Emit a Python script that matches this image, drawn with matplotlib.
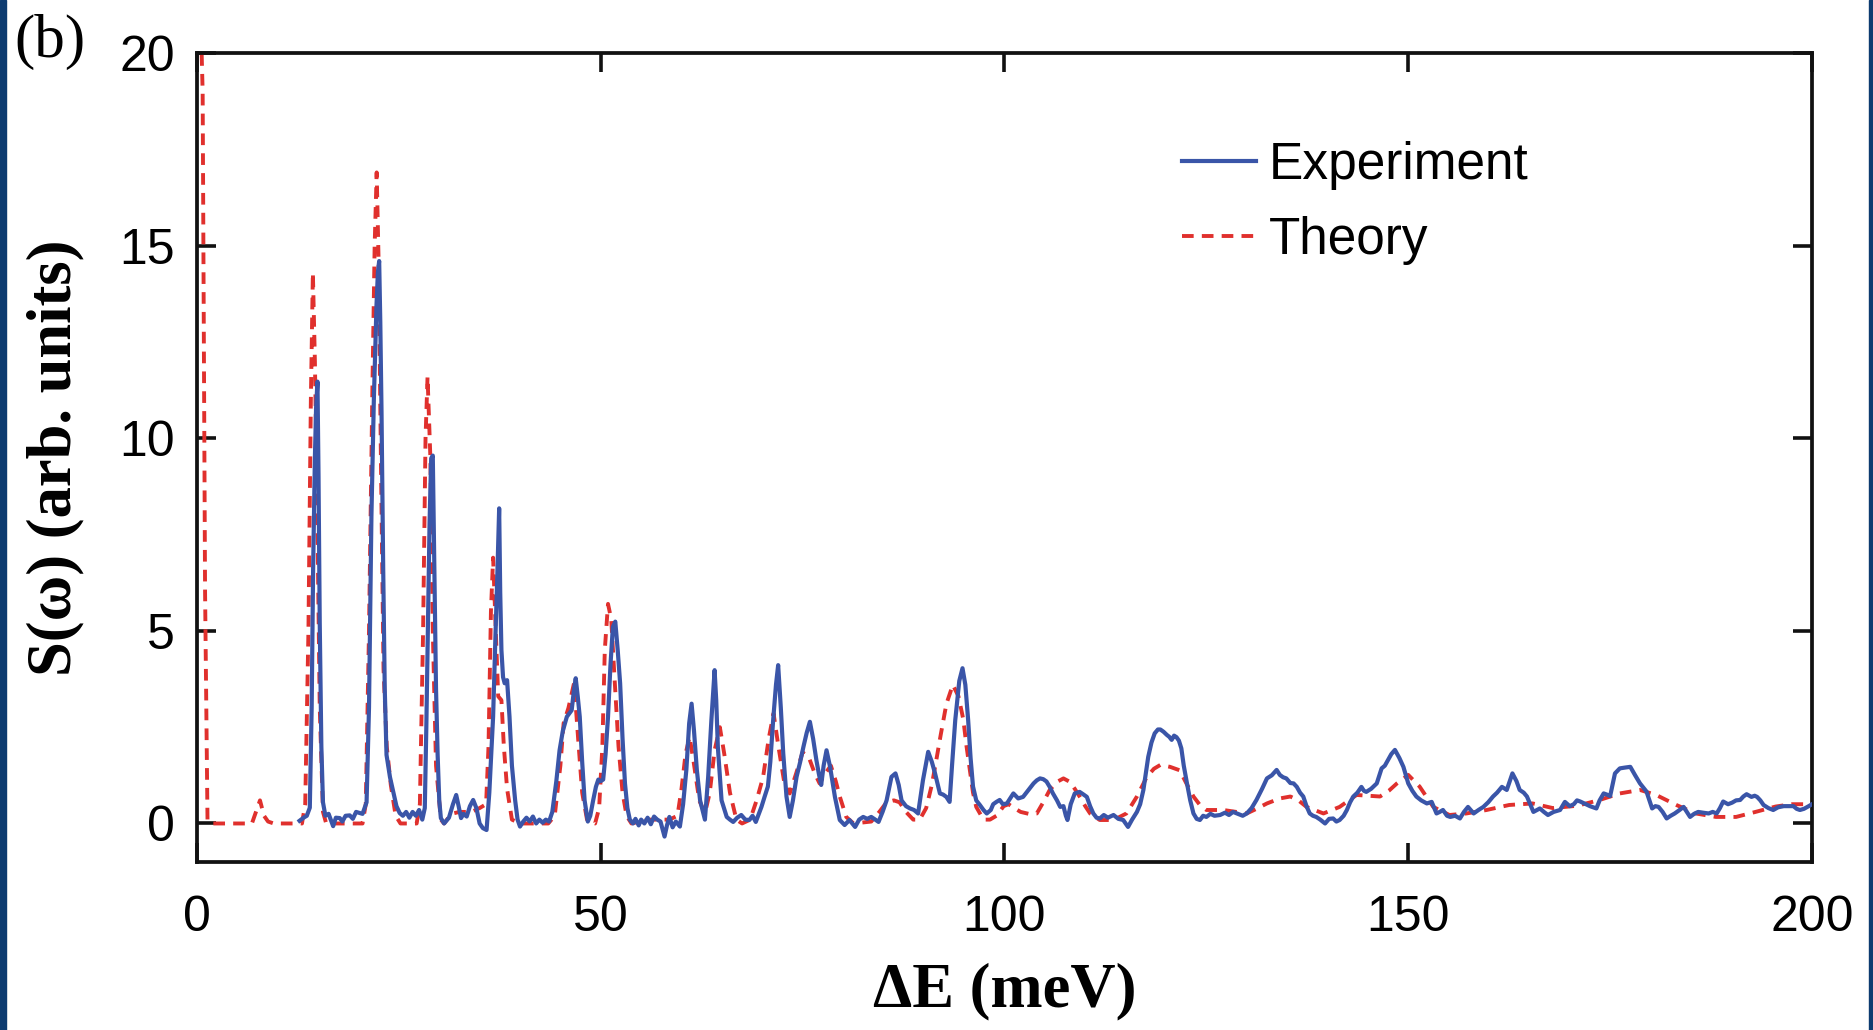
import numpy as np
import matplotlib.pyplot as plt
from matplotlib.patches import Rectangle

# S(w) spectra: (energy transfer in meV, intensity)
experiment = [
    (12.7, 0.07), (13.2, 0.15), (13.6, 0.2), (13.97, 0.41), (14.2, 3.0), (14.38, 6.6),
    (14.6, 9.5), (14.75, 10.8), (14.92, 11.47), (15.05, 9.0), (15.2, 5.2), (15.4, 2.0),
    (15.6, 0.55), (15.9, 0.2), (16.3, 0.25), (16.86, -0.07), (17.2, 0.15), (17.68, 0.14),
    (18.0, 0.05), (18.4, 0.2), (18.92, 0.21), (19.3, 0.12), (19.7, 0.3), (20.16, 0.27),
    (20.5, 0.25), (21.0, 0.55), (21.3, 3.0), (21.6, 7.97), (21.9, 11.0), (22.23, 13.46),
    (22.4, 14.3), (22.56, 14.6), (22.7, 13.0), (22.85, 10.7), (23.06, 6.6), (23.25, 3.5),
    (23.47, 1.78), (23.9, 1.2), (24.3, 0.83), (24.7, 0.45), (25.1, 0.27), (25.5, 0.2),
    (25.9, 0.3), (26.3, 0.15), (26.7, 0.3), (27.1, 0.2), (27.5, 0.35), (27.9, 0.1),
    (28.21, 0.4), (28.4, 2.5), (28.6, 5.2), (28.8, 7.8), (29.0, 9.48), (29.2, 9.55),
    (29.4, 6.6), (29.6, 3.5), (29.8, 1.78), (30.0, 0.6), (30.2, 0.14), (30.6, 0.0),
    (31.2, 0.15), (31.7, 0.5), (32.1, 0.74), (32.4, 0.45), (32.7, 0.14), (33.0, 0.25),
    (33.4, 0.18), (33.8, 0.45), (34.2, 0.61), (34.6, 0.4), (35.0, 0.0), (35.4, -0.12),
    (35.86, -0.17), (36.2, 0.8), (36.67, 2.77), (36.95, 4.8), (37.2, 6.5), (37.42, 8.18),
    (37.55, 6.0), (37.7, 4.5), (37.9, 3.8), (38.1, 3.64), (38.4, 3.72), (38.7, 2.77),
    (39.0, 1.5), (39.4, 0.6), (39.7, 0.1), (40.0, -0.08), (40.4, 0.05), (40.8, 0.15),
    (41.2, 0.05), (41.6, 0.18), (42.0, 0.0), (42.4, 0.1), (42.8, 0.02), (43.2, 0.1),
    (43.6, 0.05), (44.0, 0.3), (44.5, 1.1), (44.9, 1.9), (45.3, 2.4), (45.8, 2.77),
    (46.4, 2.94), (46.7, 3.5), (46.9, 3.77), (47.15, 3.3), (47.4, 2.77), (47.7, 1.6),
    (48.0, 0.6), (48.4, 0.05), (48.7, 0.2), (49.06, 0.6), (49.4, 0.95), (49.7, 1.14),
    (50.0, 1.1), (50.3, 1.14), (50.6, 1.8), (50.9, 2.77), (51.2, 4.1), (51.5, 5.1),
    (51.8, 5.24), (52.1, 4.5), (52.4, 3.64), (52.7, 2.2), (53.0, 1.04), (53.3, 0.4),
    (53.6, 0.1), (54.0, 0.0), (54.3, 0.12), (54.7, -0.05), (55.0, 0.1), (55.4, 0.0),
    (55.8, 0.15), (56.2, -0.02), (56.6, 0.18), (57.0, 0.1), (57.4, 0.05), (57.9, -0.34),
    (58.2, -0.05), (58.5, 0.17), (58.9, -0.1), (59.3, 0.05), (59.8, -0.08), (60.2, 0.5),
    (60.6, 1.39), (60.95, 2.6), (61.25, 3.11), (61.55, 2.4), (61.9, 1.39), (62.3, 0.6),
    (62.7, 0.27), (62.9, 0.1), (63.3, 1.2), (63.7, 2.68), (64.1, 3.98), (64.3, 3.2),
    (64.5, 1.99), (64.96, 0.6), (65.6, 0.17), (66.0, 0.1), (66.4, 0.04), (66.9, 0.15),
    (67.4, 0.22), (67.9, 0.1), (68.4, 0.09), (68.8, 0.2), (69.2, 0.04), (69.9, 0.43),
    (70.3, 0.7), (70.7, 0.96), (71.0, 1.6), (71.35, 2.68), (71.7, 3.6), (71.97, 4.11),
    (72.3, 3.0), (72.6, 1.82), (73.0, 0.7), (73.4, 0.17), (73.8, 0.6), (74.25, 1.21),
    (74.7, 1.6), (75.1, 1.99), (75.5, 2.35), (75.9, 2.64), (76.3, 2.2), (76.7, 1.65),
    (77.0, 1.3), (77.3, 1.0), (77.6, 1.5), (77.96, 1.9), (78.4, 1.47), (79.0, 0.69),
    (79.6, 0.09), (80.2, -0.04), (80.8, 0.09), (81.5, -0.09), (82.0, 0.1), (82.5, 0.17),
    (83.0, 0.12), (83.5, 0.17), (84.0, 0.1), (84.4, 0.04), (84.9, 0.3), (85.4, 0.6),
    (86.0, 1.21), (86.5, 1.3), (86.9, 1.0), (87.25, 0.6), (87.8, 0.45), (88.3, 0.39),
    (88.8, 0.35), (89.3, 0.26), (89.9, 1.12), (90.55, 1.86), (91.0, 1.6), (91.4, 1.3),
    (92.0, 0.78), (92.4, 0.75), (92.8, 0.69), (93.2, 0.56), (93.5, 1.5), (93.9, 2.68),
    (94.4, 3.7), (94.8, 4.03), (95.15, 3.6), (95.5, 2.68), (95.8, 1.7), (96.1, 0.96),
    (96.5, 0.6), (96.95, 0.48), (97.4, 0.35), (97.8, 0.26), (98.3, 0.35), (98.6, 0.5),
    (99.0, 0.56), (99.4, 0.61), (99.8, 0.5), (100.3, 0.52), (100.7, 0.65), (101.1, 0.78),
    (101.7, 0.65), (102.3, 0.69), (102.9, 0.85), (103.6, 1.04), (104.0, 1.12), (104.4, 1.17),
    (104.8, 1.15), (105.2, 1.09), (105.6, 0.95), (106.0, 0.78), (106.5, 0.6), (106.9, 0.43),
    (107.3, 0.45), (107.6, 0.2), (107.8, 0.09), (108.2, 0.5), (108.7, 0.78), (109.3, 0.82),
    (109.8, 0.75), (110.2, 0.69), (110.6, 0.45), (111.0, 0.26), (111.4, 0.15), (111.8, 0.13),
    (112.3, 0.22), (112.8, 0.15), (113.5, 0.22), (114.1, 0.12), (114.7, 0.09), (115.0, 0.0),
    (115.3, -0.09), (115.8, 0.1), (116.4, 0.3), (116.8, 0.5), (117.2, 0.87), (117.8, 1.73),
    (118.2, 2.1), (118.6, 2.34), (119.0, 2.44), (119.3, 2.44), (119.7, 2.38), (120.1, 2.3),
    (120.4, 2.25), (120.7, 2.17), (121.0, 2.28), (121.3, 2.24), (121.6, 2.15), (121.9, 1.95),
    (122.2, 1.5), (122.6, 1.04), (123.0, 0.6), (123.4, 0.26), (123.8, 0.12), (124.2, 0.09),
    (124.6, 0.2), (125.0, 0.17), (125.5, 0.25), (126.0, 0.2), (126.7, 0.22), (127.3, 0.28),
    (127.8, 0.22), (128.3, 0.3), (128.9, 0.25), (129.5, 0.2), (130.0, 0.26), (130.6, 0.4),
    (131.2, 0.61), (131.9, 0.9), (132.5, 1.17), (133.1, 1.25), (133.7, 1.39), (134.1, 1.26),
    (134.5, 1.2), (134.9, 1.17), (135.4, 1.05), (135.8, 1.04), (136.2, 0.95), (136.6, 0.8),
    (137.0, 0.7), (137.4, 0.45), (137.8, 0.26), (138.2, 0.2), (138.6, 0.17), (139.1, 0.1),
    (139.7, 0.0), (140.2, 0.12), (140.7, 0.13), (141.1, 0.05), (141.5, 0.09), (142.0, 0.2),
    (142.4, 0.35), (142.8, 0.55), (143.2, 0.7), (143.7, 0.8), (144.2, 0.95), (144.5, 0.85),
    (144.8, 0.82), (145.4, 0.9), (146.1, 1.04), (146.7, 1.43), (147.1, 1.5), (147.5, 1.65),
    (147.9, 1.8), (148.35, 1.91), (148.9, 1.7), (149.4, 1.47), (150.0, 1.04), (150.5, 0.85),
    (151.0, 0.7), (151.6, 0.6), (152.3, 0.52), (152.9, 0.56), (153.5, 0.26), (153.9, 0.3),
    (154.3, 0.35), (154.8, 0.2), (155.2, 0.17), (155.8, 0.2), (156.4, 0.13), (156.9, 0.3),
    (157.4, 0.43), (158.1, 0.26), (158.7, 0.35), (159.3, 0.43), (159.9, 0.55), (160.5, 0.7),
    (161.0, 0.8), (161.6, 0.95), (162.2, 0.87), (162.9, 1.3), (163.4, 1.1), (163.8, 0.87),
    (164.3, 0.8), (164.7, 0.7), (165.1, 0.5), (165.5, 0.3), (166.3, 0.39), (166.8, 0.3),
    (167.3, 0.22), (168.0, 0.3), (168.8, 0.35), (169.4, 0.56), (170.0, 0.45), (170.5, 0.5),
    (170.9, 0.6), (171.3, 0.57), (172.0, 0.5), (172.5, 0.45), (173.3, 0.39), (173.7, 0.6),
    (174.2, 0.78), (174.6, 0.75), (175.0, 0.71), (175.6, 1.3), (176.2, 1.43), (176.8, 1.45),
    (177.5, 1.47), (178.1, 1.25), (178.7, 1.04), (179.5, 0.83), (180.2, 0.39), (180.6, 0.45),
    (181.0, 0.43), (181.5, 0.3), (182.0, 0.13), (182.5, 0.2), (183.0, 0.26), (183.6, 0.35),
    (184.1, 0.43), (184.5, 0.3), (184.9, 0.17), (185.4, 0.25), (185.9, 0.3), (186.5, 0.28),
    (187.2, 0.26), (187.7, 0.3), (188.2, 0.26), (188.6, 0.4), (189.0, 0.57), (189.6, 0.5),
    (190.1, 0.54), (190.6, 0.6), (191.1, 0.61), (191.5, 0.7), (191.9, 0.76), (192.5, 0.69),
    (192.9, 0.72), (193.2, 0.69), (193.6, 0.6), (194.0, 0.48), (194.6, 0.4), (195.2, 0.35),
    (195.8, 0.42), (196.5, 0.45), (197.1, 0.45), (197.7, 0.45), (198.1, 0.38), (198.5, 0.35),
    (199.0, 0.38), (199.6, 0.45), (200.0, 0.5),
]

theory = [
    (0.45, 21.0), (0.7, 19.0), (1.0, 6.0), (1.3, 0.1), (1.6, 0.0), (6.8, 0.0), (7.3, 0.3),
    (7.8, 0.6), (8.3, 0.2), (8.8, 0.05), (9.5, 0.0), (13.0, 0.0), (13.4, 0.5), (13.8, 5.0),
    (14.1, 11.0), (14.35, 14.3), (14.6, 12.0), (14.9, 8.0), (15.2, 3.0), (15.6, 0.3),
    (16.0, 0.0), (20.5, 0.0), (20.9, 0.5), (21.3, 5.0), (21.7, 11.0), (22.0, 15.0),
    (22.25, 16.9), (22.5, 14.5), (22.8, 9.0), (23.1, 4.0), (23.5, 2.0), (24.0, 1.0),
    (24.6, 0.2), (25.2, 0.0), (27.2, 0.0), (27.6, 0.5), (28.0, 5.0), (28.3, 10.0),
    (28.55, 11.6), (28.9, 9.5), (29.2, 5.0), (29.6, 1.5), (30.2, 0.1), (30.6, 0.0),
    (31.5, 0.25), (32.5, 0.3), (34.0, 0.3), (35.0, 0.4), (35.8, 0.5), (36.1, 2.0),
    (36.4, 5.5), (36.67, 6.9), (37.0, 5.0), (37.3, 3.3), (37.7, 3.2), (38.0, 2.0),
    (38.4, 0.9), (39.0, 0.1), (40.0, 0.0), (43.5, 0.0), (44.3, 0.2), (45.0, 1.5),
    (45.4, 2.6), (46.0, 3.0), (46.7, 3.65), (47.2, 2.2), (47.7, 0.8), (48.3, 0.1),
    (49.3, 0.0), (49.8, 0.4), (50.2, 2.0), (50.5, 4.5), (50.9, 5.7), (51.3, 5.3),
    (51.7, 3.8), (52.2, 2.0), (52.7, 0.8), (53.2, 0.2), (53.8, 0.0), (56.0, 0.1),
    (58.5, 0.1), (59.5, 0.2), (60.0, 0.9), (60.5, 1.8), (61.0, 2.25), (61.5, 1.6),
    (62.2, 0.6), (62.9, 0.26), (63.5, 0.8), (64.1, 1.9), (64.75, 2.5), (65.3, 1.8),
    (66.0, 0.8), (66.8, 0.1), (67.5, 0.0), (68.5, 0.1), (69.3, 0.6), (70.1, 1.2),
    (70.8, 2.2), (71.4, 2.86), (72.0, 2.0), (72.7, 1.1), (73.4, 0.78), (74.2, 1.3),
    (75.0, 1.85), (75.8, 1.7), (76.5, 1.3), (77.1, 1.04), (77.8, 1.3), (78.5, 1.5),
    (79.1, 1.1), (79.6, 0.7), (80.4, 0.17), (81.3, 0.0), (83.5, 0.05), (84.5, 0.3),
    (85.4, 0.55), (86.3, 0.6), (87.0, 0.55), (87.8, 0.3), (88.7, 0.1), (89.5, 0.1),
    (90.3, 0.4), (91.0, 1.0), (91.6, 1.7), (92.1, 2.3), (92.8, 3.1), (93.6, 3.6),
    (94.3, 3.3), (94.9, 2.7), (95.3, 2.0), (95.7, 1.4), (96.1, 0.8), (96.5, 0.43),
    (97.4, 0.1), (98.2, 0.1), (99.0, 0.2), (99.9, 0.45), (100.5, 0.5), (101.2, 0.4),
    (102.0, 0.3), (103.0, 0.25), (104.0, 0.26), (104.8, 0.55), (105.6, 0.87), (106.5, 1.08),
    (107.3, 1.17), (108.1, 1.08), (108.7, 0.9), (109.3, 0.7), (110.0, 0.45), (110.6, 0.26),
    (111.8, 0.09), (113.5, 0.09), (115.1, 0.26), (116.4, 0.7), (117.6, 1.2), (118.5, 1.42),
    (119.3, 1.52), (120.5, 1.47), (121.7, 1.38), (122.5, 1.05), (123.4, 0.7), (124.2, 0.48),
    (125.0, 0.35), (127.1, 0.35), (130.0, 0.26), (131.2, 0.38), (132.5, 0.52), (134.1, 0.65),
    (135.4, 0.7), (136.4, 0.6), (137.4, 0.43), (139.5, 0.26), (141.5, 0.43), (143.6, 0.74),
    (146.5, 0.7), (147.6, 0.85), (148.6, 1.04), (150.0, 1.26), (151.4, 0.96), (153.1, 0.43),
    (155.1, 0.22), (157.2, 0.26), (159.7, 0.35), (162.5, 0.48), (165.4, 0.52), (167.9, 0.4),
    (170.4, 0.45), (171.3, 0.48), (173.7, 0.61), (176.2, 0.78), (178.7, 0.87), (180.7, 0.74),
    (183.2, 0.48), (185.6, 0.26), (188.1, 0.17), (190.6, 0.17), (193.0, 0.3), (195.5, 0.44),
    (197.5, 0.5), (199.4, 0.5), (200.0, 0.5),
]

x_ticks = [0, 50, 100, 150, 200]
y_ticks = [0, 5, 10, 15, 20]

exp_mev, exp_s = np.array(experiment).T
theo_mev, theo_s = np.array(theory).T

sans = ["Liberation Sans", "DejaVu Sans"]
serif = ["Liberation Serif", "DejaVu Serif"]

fig = plt.figure(figsize=(18.74, 10.30), dpi=100)
ax = fig.add_axes([197 / 1874, 1 - 862 / 1030, (1812 - 197) / 1874, (862 - 53) / 1030])

ax.plot(exp_mev, exp_s, color="#3a55a8", lw=3.0, label="Experiment", zorder=3)
ax.plot(theo_mev, theo_s, color="#e0302d", lw=2.8, ls=(0, (3.0, 2.1)),
        label="Theory", zorder=2)

ax.set_xlim(0, 200)
ax.set_ylim(-1, 20)
ax.set_xticks(x_ticks)
ax.set_yticks(y_ticks)
ax.tick_params(direction="in", length=14, width=2.6, top=True, right=True,
               labelsize=36, color="#111111")
ax.tick_params(axis="x", pad=24)
ax.tick_params(axis="y", pad=16)
for lab in ax.get_xticklabels() + ax.get_yticklabels():
    lab.set_fontfamily(sans)
for sp in ax.spines.values():
    sp.set_linewidth(2.7)
    sp.set_color("#111111")

ax.set_xlabel("ΔE (meV)", fontsize=45, fontweight="bold", family=serif, labelpad=15)
ax.set_ylabel("S(ω) (arb. units)", fontsize=45, fontweight="bold", family=serif, labelpad=25)

leg = ax.legend(loc="upper left", bbox_to_anchor=(1156 / 1874, 1 - 115 / 1030),
                bbox_transform=fig.transFigure, frameon=False, fontsize=37,
                handlelength=1.45, handletextpad=0.25, labelspacing=0.52, borderpad=0)
for t in leg.get_texts():
    t.set_fontfamily(sans)

fig.text(14 / 1874, 1 - 42 / 1030, "(b)", fontsize=44, family=serif, va="center", ha="left")

# dark frame at the left and right edges of the source image
fig.patches.append(Rectangle((0, 0), 6 / 1874, 1, transform=fig.transFigure,
                             color="#0d3b70", zorder=10))
fig.patches.append(Rectangle((1869 / 1874, 0), 5 / 1874, 1, transform=fig.transFigure,
                             color="#0d3b70", zorder=10))

fig.savefig("out.png", dpi=100)
